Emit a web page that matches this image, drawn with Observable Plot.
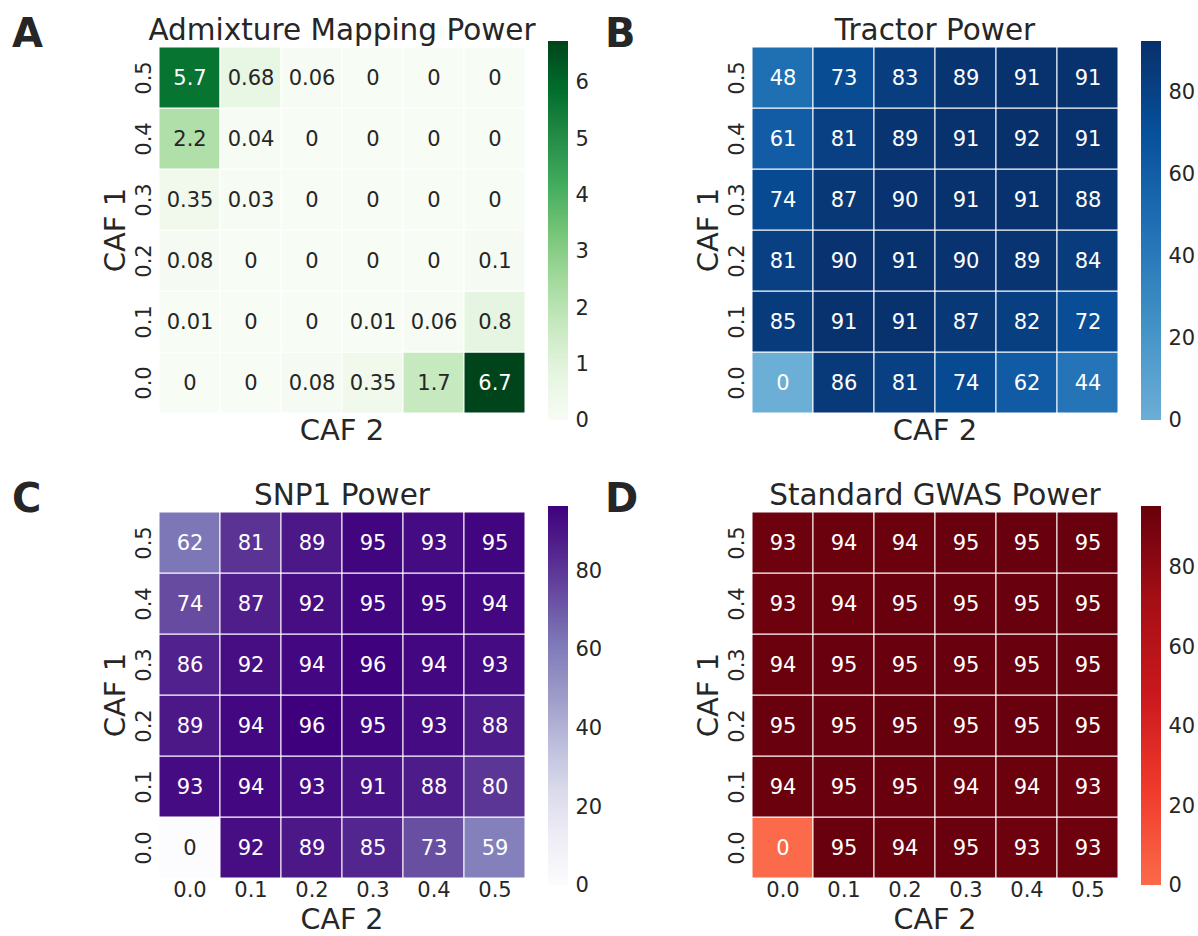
<!DOCTYPE html>
<html>
<head>
<meta charset="utf-8">
<script src="https://cdn.jsdelivr.net/npm/d3@7"></script>
<script src="https://cdn.jsdelivr.net/npm/@observablehq/plot@0.6"></script>
<style>
  body { margin: 0; background: #ffffff; }
  #root { position: relative; width: 1198px; height: 936px; overflow: hidden; background: #ffffff; font-family: "DejaVu Sans", sans-serif; }
  #root svg { position: absolute; }
</style>
</head>
<body>
<div id="root"></div>
<script>
// ---- data -------------------------------------------------------------
// categories (both axes)
const caf = ["0.0", "0.1", "0.2", "0.3", "0.4", "0.5"];

// rows: CAF 1 = 0.0 ... 0.5 ; columns: CAF 2 = 0.0 ... 0.5
const admixturePower = [
  [0,    0,    0.08, 0.35, 1.7,  6.73],
  [0.01, 0,    0,    0.01, 0.06, 0.8 ],
  [0.08, 0,    0,    0,    0,    0.1 ],
  [0.35, 0.03, 0,    0,    0,    0   ],
  [2.2,  0.04, 0,    0,    0,    0   ],
  [5.7,  0.68, 0.06, 0,    0,    0   ]
];
const tractorPower = [
  [0,  86, 81, 74, 62,   44],
  [85, 91, 91, 87, 82,   72],
  [81, 90, 91, 90, 89,   84],
  [74, 87, 90, 91, 91,   88],
  [61, 81, 89, 91, 92.4, 91],
  [48, 73, 83, 89, 91,   91]
];
const snp1Power = [
  [0,  92, 89,   85, 73, 59],
  [93, 94, 93,   91, 88, 80],
  [89, 94, 96.4, 95, 93, 88],
  [86, 92, 94,   96, 94, 93],
  [74, 87, 92,   95, 95, 94],
  [62, 81, 89,   95, 93, 95]
];
const gwasPower = [
  [0,  95, 94,   95, 93, 93],
  [94, 95, 95,   94, 94, 93],
  [95, 95, 95.4, 95, 95, 95],
  [94, 95, 95,   95, 95, 95],
  [93, 94, 95,   95, 95, 95],
  [93, 94, 94,   95, 95, 95]
];

// colorbar tick labels
const admixtureTicks = [0, 1, 2, 3, 4, 5, 6];
const percentTicks = [0, 20, 40, 60, 80];

const titles = ["Admixture Mapping Power", "Tractor Power", "SNP1 Power", "Standard GWAS Power"];
const letters = ["A", "B", "C", "D"];
const xLabel = "CAF 2";
const yLabel = "CAF 1";

// ---- drawing ----------------------------------------------------------
const root = document.getElementById("root");
const INK = "#262626";
const FONT = "DejaVu Sans";
const fmt = d3.format(".2~g");

function luminance(c) {
  const {r, g, b} = d3.rgb(c);
  const f = x => { x /= 255; return x <= 0.03928 ? x / 12.92 : Math.pow((x + 0.055) / 1.055, 2.4); };
  return 0.2126 * f(r) + 0.7152 * f(g) + 0.0722 * f(b);
}

const panels = [
  {values: admixturePower, scheme: d3.schemeGreens[9],  lo: 0.0, ticks: admixtureTicks, ox: 0,   oy: 0,   h: 465, xTicks: false},
  {values: tractorPower,   scheme: d3.schemeBlues[9],   lo: 0.5, ticks: percentTicks,   ox: 593, oy: 0,   h: 465, xTicks: false},
  {values: snp1Power,      scheme: d3.schemePurples[9], lo: 0.0, ticks: percentTicks,   ox: 0,   oy: 465, h: 471, xTicks: true},
  {values: gwasPower,      scheme: d3.schemeReds[9],    lo: 0.5, ticks: percentTicks,   ox: 593, oy: 465, h: 471, xTicks: true}
];

panels.forEach((p, k) => {
  const data = [];
  p.values.forEach((row, i) => row.forEach((v, j) => data.push({caf1: caf[i], caf2: caf[j], v})));
  const vmax = d3.max(data, d => d.v);
  const base = d3.piecewise(d3.interpolateRgb, p.scheme);
  const interp = t => base(p.lo + (1 - p.lo) * Math.max(0, Math.min(1, t)));
  const colorOpt = {type: "linear", domain: [0, vmax], interpolate: interp};

  const W = 600, H = p.h;
  const fx0 = 159, fx1 = 525, fy0 = 47, fy1 = 413;

  const marks = [
    Plot.cell(data, {x: "caf2", y: "caf1", fill: "v", stroke: "white", strokeWidth: 1, inset: 0}),
    Plot.text(data, {
      x: "caf2", y: "caf1", text: d => fmt(d.v), fontSize: 21,
      fill: d => luminance(interp(d.v / vmax)) > 0.408 ? INK : "white"
    }),
    Plot.axisY({tickRotate: -90, tickSize: 0, tickPadding: 9, fontSize: 21, label: null})
  ];
  if (p.xTicks) marks.push(Plot.axisX({tickSize: 0, tickPadding: 3.5, fontSize: 21, label: null}));

  const heat = Plot.plot({
    width: W, height: H,
    marginLeft: fx0, marginRight: W - fx1, marginTop: fy0, marginBottom: H - fy1,
    style: {background: "transparent", fontFamily: FONT, color: INK, overflow: "visible"},
    x: {type: "band", domain: caf, padding: 0, axis: p.xTicks ? undefined : null},
    y: {type: "band", domain: caf.slice().reverse(), padding: 0},
    color: colorOpt,
    marks
  });
  heat.style.left = p.ox + "px";
  heat.style.top = p.oy + "px";
  root.appendChild(heat);

  const svg = d3.select(heat);
  const txt = (x, y, s, size, extra = {}) => {
    const t = svg.append("text")
      .attr("x", x).attr("y", y)
      .attr("fill", INK)
      .attr("font-family", FONT)
      .attr("font-size", size)
      .attr("text-anchor", extra.anchor || "middle")
      .text(s);
    if (extra.weight) t.attr("font-weight", extra.weight);
    if (extra.rotate) t.attr("x", null).attr("y", null).attr("transform", `translate(${x},${y}) rotate(${extra.rotate})`);
    return t;
  };
  txt((fx0 + fx1) / 2, 40, titles[k], 29.5);
  txt(12, 47, letters[k], 40, {anchor: "start", weight: "bold"});
  txt(fx0 - 34, (fy0 + fy1) / 2, yLabel, 29, {rotate: -90});
  if (p.xTicks) txt((fx0 + fx1) / 2, fy1 + 51, xLabel, 28.5);
  else txt((fx0 + fx1) / 2, fy1 + 27, xLabel, 29);

  // colorbar
  const N = 300;
  const slices = d3.range(N).map(i => [i * vmax / N, (i + 1) * vmax / N]);
  const cbW = 75, cbLeft = 530;
  const cb = Plot.plot({
    width: cbW, height: H,
    marginLeft: 548 - cbLeft, marginRight: cbW - (568 - cbLeft), marginTop: 41, marginBottom: H - 420,
    style: {background: "transparent", fontFamily: FONT, color: INK, overflow: "visible"},
    y: {domain: [0, vmax]},
    color: colorOpt,
    marks: [
      Plot.rect(slices, {y1: d => d[0], y2: d => d[1], fill: d => (d[0] + d[1]) / 2, shapeRendering: "crispEdges"}),
      Plot.axisY({anchor: "right", ticks: p.ticks, tickFormat: d3.format("d"), tickSize: 0, tickPadding: 7, fontSize: 21, label: null})
    ]
  });
  cb.style.left = (p.ox + cbLeft) + "px";
  cb.style.top = p.oy + "px";
  root.appendChild(cb);
});
</script>
</body>
</html>
